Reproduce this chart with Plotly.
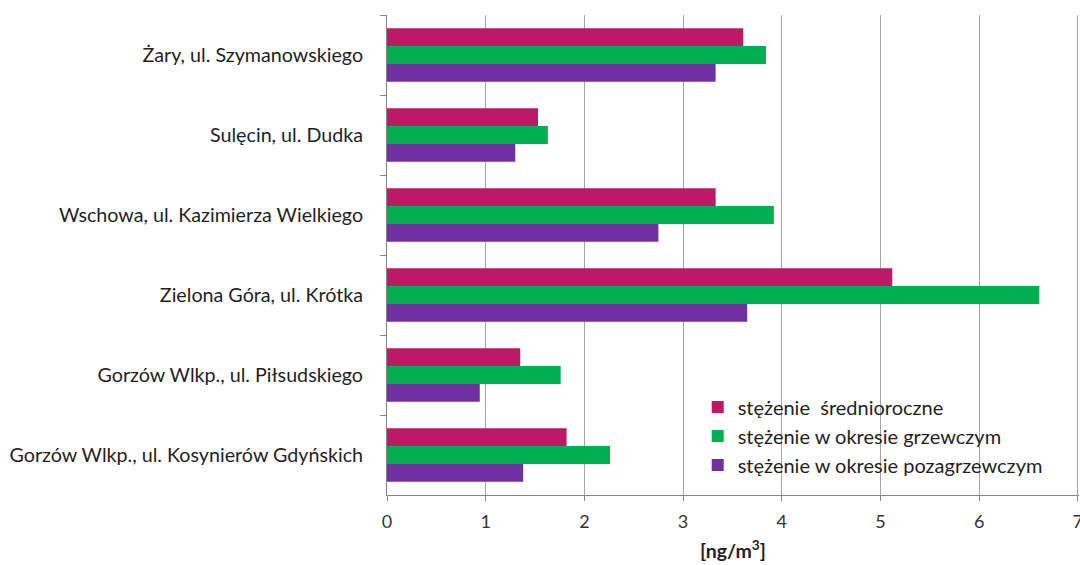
import plotly.graph_objects as go

categories = [
    "Żary, ul. Szymanowskiego",
    "Sulęcin, ul. Dudka",
    "Wschowa, ul. Kazimierza Wielkiego",
    "Zielona Góra, ul. Krótka",
    "Gorzów Wlkp., ul. Piłsudskiego",
    "Gorzów Wlkp., ul. Kosynierów Gdyńskich",
]
annual = [3.61, 1.53, 3.33, 5.12, 1.35, 1.82]
heating = [3.84, 1.63, 3.92, 6.61, 1.76, 2.26]
nonheating = [3.33, 1.30, 2.75, 3.65, 0.94, 1.38]

series_names = [
    "stężenie  średnioroczne",
    "stężenie w okresie grzewczym",
    "stężenie w okresie pozagrzewczym",
]
colors = ["#BE1867", "#00B050", "#7030A0"]

fig = go.Figure()
for name, vals, col in zip(series_names, [annual, heating, nonheating], colors):
    fig.add_trace(go.Bar(y=categories, x=vals, name=name, orientation="h",
                         marker=dict(color=col, line=dict(width=0))))

font_family = "Lato, Open Sans, sans-serif"
fig.update_layout(
    width=1080, height=565,
    margin=dict(l=387, r=1, t=15, b=70, autoexpand=False),
    paper_bgcolor="white", plot_bgcolor="white",
    barmode="group", bargap=0.33, bargroupgap=0,
    font=dict(family=font_family, size=19.7, color="#1f1f1f"),
    legend=dict(x=0.449, y=0.224, xanchor="left", yanchor="top",
                bgcolor="rgba(0,0,0,0)", font=dict(size=20, color="#1f1f1f"),
                itemwidth=30, tracegroupgap=0),
    showlegend=True,
)
fig.update_xaxes(
    range=[0, 7.012], dtick=1, showgrid=True, gridcolor="#A6A6A6", gridwidth=1,
    showline=True, linecolor="#868686", linewidth=1,
    ticks="outside", ticklen=5, tickcolor="#868686",
    ticklabelstandoff=5, ticklabeloverflow="allow", zeroline=False,
    automargin=False,
    title=dict(text="<b>[ng/m<sup>3</sup>]</b>", standoff=13, font=dict(size=19.5)),
    tickfont=dict(size=18, color="#333333"),
)
fig.update_yaxes(
    autorange="reversed", showline=True, linecolor="#868686", linewidth=1,
    ticks="outside", ticklen=6, tickcolor="#868686", tickson="boundaries",
    ticklabelstandoff=19, showgrid=False, automargin=False,
    tickfont=dict(size=19.7, color="#1f1f1f"),
)
fig.write_html(
    "out.html",
    config={"displayModeBar": False},
    post_script="document.body.style.margin='0px';document.body.style.overflow='hidden';",
)
